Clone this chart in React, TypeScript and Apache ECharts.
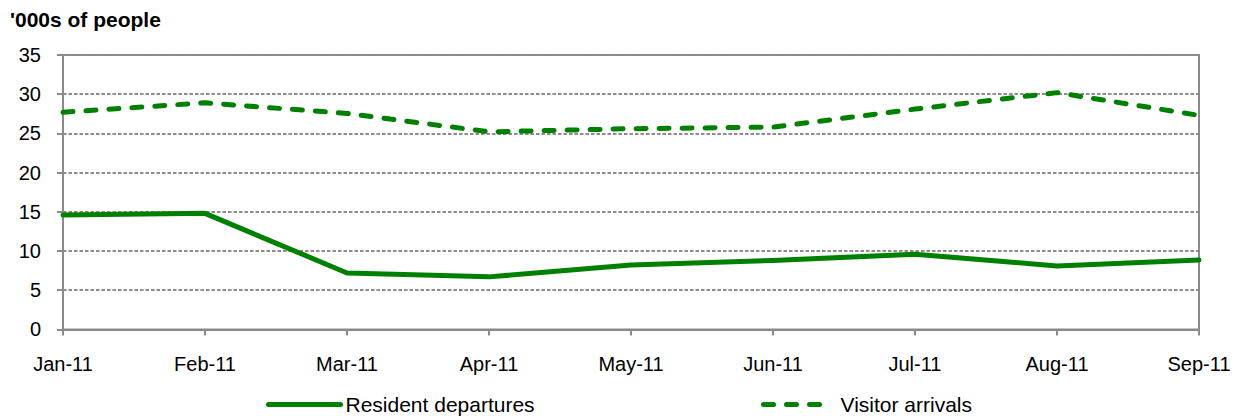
import React, { useEffect, useRef } from "react";
import * as echarts from "echarts";

const categories = ["Jan-11", "Feb-11", "Mar-11", "Apr-11", "May-11", "Jun-11", "Jul-11", "Aug-11", "Sep-11"];
const residentDepartures = [14.6, 14.8, 7.2, 6.7, 8.2, 8.8, 9.6, 8.1, 8.85];
const visitorArrivals = [27.7, 28.9, 27.55, 25.2, 25.6, 25.8, 28.1, 30.2, 27.3];
const yTicks = { min: 0, max: 35, interval: 5 };
const titleText = "'000s of people";
const seriesNames = ["Resident departures", "Visitor arrivals"];

const FONT = "'Liberation Sans', Arial, sans-serif";
const GREEN = "#008000";
const GRAY = "#8a8a8a";
const DASH = [10, 13];

export default function App() {
  const ref = useRef<HTMLDivElement>(null);
  useEffect(() => {
    if (!ref.current) return;
    const chart = echarts.init(ref.current, undefined, { renderer: "svg" });
    chart.setOption({
      animation: false,
      backgroundColor: "#ffffff",
      textStyle: { fontFamily: FONT },
      graphic: [
        {
          type: "text",
          left: 10,
          top: 9,
          style: {
            text: titleText,
            font: `bold 21px ${FONT}`,
            fill: "#000",
          },
        },
      ],
      grid: {
        left: 63,
        right: 42,
        top: 55,
        bottom: 86.6,
        show: true,
        borderColor: GRAY,
        borderWidth: 2,
      },
      legend: [
        {
          data: [seriesNames[0]],
          left: 266,
          top: 394,
          itemWidth: 72,
          itemHeight: 20,
          itemGap: 0,
          padding: 0,
          itemStyle: { opacity: 0 },
          lineStyle: { width: 5, color: GREEN, type: "solid", cap: "round" },
          textStyle: { fontSize: 21, color: "#000", fontFamily: FONT },
        },
        {
          data: [seriesNames[1]],
          left: 761,
          top: 394,
          itemWidth: 64,
          itemHeight: 20,
          itemGap: 0,
          padding: 0,
          itemStyle: { opacity: 0 },
          lineStyle: { width: 5, color: GREEN, type: DASH, cap: "round" },
          textStyle: { fontSize: 21, color: "#000", fontFamily: FONT, padding: [0, 0, 0, 8] },
        },
      ],
      xAxis: {
        type: "category",
        data: categories,
        boundaryGap: false,
        axisLine: { lineStyle: { color: GRAY, width: 2 } },
        axisTick: { show: true, length: 6, alignWithLabel: true, lineStyle: { color: GRAY, width: 2 } },
        axisLabel: { fontSize: 20, color: "#000", margin: 25, fontFamily: FONT },
        splitLine: { show: false },
      },
      yAxis: {
        type: "value",
        min: yTicks.min,
        max: yTicks.max,
        interval: yTicks.interval,
        axisLine: { show: true, lineStyle: { color: GRAY, width: 2 } },
        axisTick: { show: true, length: 6, lineStyle: { color: GRAY, width: 2 } },
        axisLabel: { fontSize: 20, color: "#000", margin: 22, fontFamily: FONT },
        splitLine: { show: true, lineStyle: { color: "#8c8c8c", width: 2, type: [3.5, 2] } },
      },
      series: [
        {
          name: seriesNames[0],
          type: "line",
          data: residentDepartures,
          symbol: "none",
          lineStyle: { color: GREEN, width: 5, cap: "round", join: "round" },
          itemStyle: { color: GREEN },
        },
        {
          name: seriesNames[1],
          type: "line",
          data: visitorArrivals,
          symbol: "none",
          lineStyle: { color: GREEN, width: 5, type: DASH, cap: "round", join: "round" },
          itemStyle: { color: GREEN },
        },
      ],
    });
    return () => chart.dispose();
  }, []);
  return (
    <div
      ref={ref}
      style={{ position: "fixed", left: 0, top: 0, width: 1241, height: 416 }}
    />
  );
}
